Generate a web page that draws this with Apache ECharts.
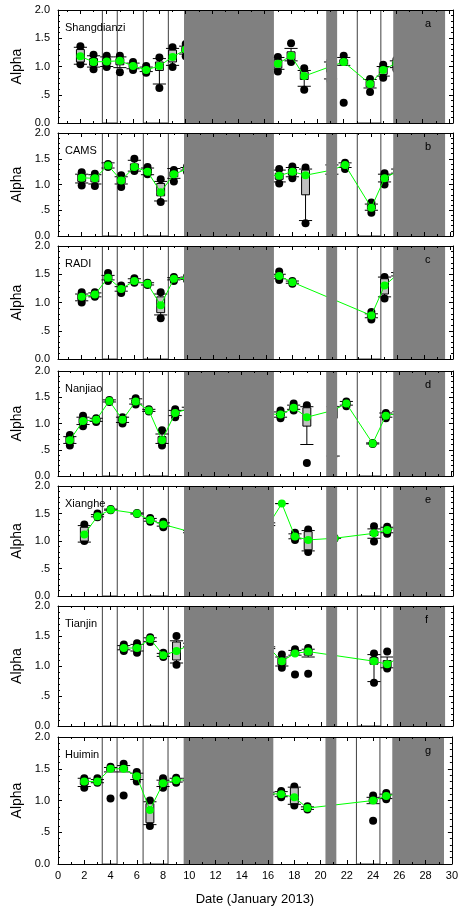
<!DOCTYPE html>
<html><head><meta charset="utf-8">
<script src="https://cdn.jsdelivr.net/npm/echarts@6.0.0/dist/echarts.min.js"></script>
<style>html,body{margin:0;padding:0;background:#fff}#c{width:461px;height:908px}</style>
</head><body><div id="c"></div>
<script>
// ---------------- data ----------------
const stationNames = ['Shangdianzi', 'CAMS', 'RADI', 'Nanjiao', 'Xianghe', 'Tianjin', 'Huimin'];
const panelLetters = ['a', 'b', 'c', 'd', 'e', 'f', 'g'];
// each panel's day axis is offset slightly from the common date axis
const dayShift = [0.3, 0.2, 0.2, 0.1, 0, 0, 0];
const xTickLabels = [0, 2, 4, 6, 8, 10, 12, 14, 16, 18, 20, 22, 24, 26, 28, 30];
const yTickValues = [0, 0.5, 1.0, 1.5, 2.0];
const grayBands = [[9.57, 16.4], [20.37, 21.2], [25.46, 29.4]];
const markedPeriods = [[3.37, 4.5], [6.48, 8.38], [22.73, 24.52]];

// rows: [day, lowDot, lowCap, q1, mean, q3, highCap, highDot]
const shangdianzi = [
  [2, 1.04, 1.04, 1.08, 1.18, 1.30, 1.34, 1.36],
  [3, 0.95, 0.99, 1.02, 1.08, 1.14, 1.19, 1.21],
  [4, 0.99, 1.00, 1.04, 1.09, 1.14, 1.17, 1.19],
  [5, 0.90, 0.98, 1.03, 1.10, 1.14, 1.17, 1.19],
  [6, 0.94, 0.96, 0.98, 1.01, 1.04, 1.06, 1.08],
  [7, 0.89, 0.91, 0.92, 0.94, 0.97, 0.99, 1.01],
  [8, 0.62, 0.69, 0.93, 1.01, 1.08, 1.14, 1.16],
  [9, 0.99, 1.02, 1.08, 1.17, 1.29, 1.32, 1.34],
  [10, 1.18, 1.22, 1.25, 1.30, 1.34, 1.36, 1.40],
  [17, 0.91, 0.95, 0.97, 1.05, 1.12, 1.16, 1.17],
  [18, 1.08, 1.10, 1.12, 1.19, 1.26, 1.32, 1.41],
  [19, 0.59, 0.65, 0.77, 0.83, 0.91, 0.93, 0.97],
  [21, 0.75, 0.78, 0.90, 1.00, 1.05, 1.08, 1.10],
  [22, 0.36, 1.02, 1.04, 1.08, 1.12, 1.16, 1.19],
  [24, 0.55, 0.62, 0.64, 0.69, 0.74, 0.77, 0.78],
  [25, 0.80, 0.83, 0.86, 0.94, 0.99, 1.00, 1.03],
  [26, 0.95, 0.98, 1.00, 1.06, 1.08, 1.10, 1.12]
];
const cams = [
  [2, 0.98, 1.03, 1.06, 1.13, 1.19, 1.20, 1.24],
  [3, 0.97, 1.01, 1.05, 1.12, 1.17, 1.19, 1.21],
  [4, 1.34, 1.32, 1.34, 1.37, 1.40, 1.42, 1.40],
  [5, 0.95, 1.01, 1.03, 1.08, 1.13, 1.15, 1.18],
  [6, 1.26, 1.26, 1.29, 1.34, 1.40, 1.47, 1.50],
  [7, 1.20, 1.19, 1.22, 1.25, 1.30, 1.32, 1.34],
  [8, 0.66, 0.68, 0.78, 0.85, 1.02, 1.06, 1.10],
  [9, 1.06, 1.12, 1.15, 1.20, 1.25, 1.31, 1.28],
  [10, 1.25, 1.28, 1.29, 1.30, 1.32, 1.33, 1.35],
  [17, 1.02, 1.05, 1.10, 1.17, 1.22, 1.28, 1.30],
  [18, 1.12, 1.15, 1.18, 1.25, 1.30, 1.33, 1.35],
  [19, 0.25, 0.30, 0.80, 1.18, 1.28, 1.30, 1.33],
  [21, 1.18, 1.20, 1.24, 1.28, 1.32, 1.38, 1.40],
  [22, 1.30, 1.33, 1.35, 1.38, 1.40, 1.42, 1.42],
  [24, 0.45, 0.50, 0.52, 0.55, 0.60, 0.62, 0.65],
  [25, 1.00, 1.05, 1.08, 1.12, 1.17, 1.20, 1.22],
  [26, 1.20, 1.22, 1.24, 1.26, 1.28, 1.30, 1.32]
];
const radi = [
  [2, 1.00, 1.03, 1.05, 1.10, 1.14, 1.15, 1.18],
  [3, 1.10, 1.10, 1.12, 1.14, 1.16, 1.17, 1.18],
  [4, 1.38, 1.40, 1.41, 1.44, 1.47, 1.48, 1.52],
  [5, 1.17, 1.20, 1.21, 1.24, 1.27, 1.28, 1.30],
  [6, 1.35, 1.35, 1.36, 1.38, 1.40, 1.42, 1.43],
  [7, 1.31, 1.31, 1.32, 1.33, 1.34, 1.35, 1.35],
  [8, 0.72, 0.78, 0.82, 0.95, 1.10, 1.15, 1.18],
  [9, 1.38, 1.40, 1.40, 1.42, 1.43, 1.44, 1.45],
  [10, 1.40, 1.41, 1.42, 1.43, 1.44, 1.45, 1.46],
  [17, 1.40, 1.42, 1.44, 1.47, 1.50, 1.50, 1.55],
  [18, 1.33, 1.34, 1.35, 1.36, 1.37, 1.38, 1.38],
  [24, 0.70, 0.73, 0.74, 0.77, 0.79, 0.80, 0.83],
  [25, 1.07, 1.10, 1.15, 1.30, 1.42, 1.45, 1.45],
  [26, 1.45, 1.47, 1.48, 1.50, 1.52, 1.53, 1.55]
];
const nanjiao = [
  [1, 0.58, 0.62, 0.63, 0.68, 0.74, 0.75, 0.78],
  [2, 0.95, 0.98, 1.00, 1.05, 1.10, 1.12, 1.15],
  [3, 1.03, 1.04, 1.05, 1.07, 1.09, 1.10, 1.10],
  [4, 1.41, 1.41, 1.42, 1.43, 1.44, 1.45, 1.45],
  [5, 1.00, 1.02, 1.04, 1.07, 1.10, 1.12, 1.12],
  [6, 1.36, 1.37, 1.39, 1.42, 1.45, 1.47, 1.48],
  [7, 1.23, 1.23, 1.24, 1.25, 1.26, 1.27, 1.27],
  [8, 0.58, 0.62, 0.63, 0.68, 0.75, 0.80, 0.87],
  [9, 1.12, 1.15, 1.17, 1.20, 1.24, 1.25, 1.27],
  [10, 1.24, 1.25, 1.26, 1.28, 1.30, 1.31, 1.32],
  [17, 1.10, 1.12, 1.14, 1.17, 1.20, 1.22, 1.25],
  [18, 1.25, 1.27, 1.28, 1.30, 1.33, 1.35, 1.38],
  [19, 0.25, 0.60, 0.95, 1.12, 1.30, 1.32, 1.35],
  [21, 0.36, 0.38, 1.10, 1.25, 1.30, 1.32, 1.34],
  [22, 1.33, 1.35, 1.36, 1.38, 1.40, 1.42, 1.42],
  [24, 0.61, 0.61, 0.61, 0.62, 0.63, 0.63, 0.63],
  [25, 1.10, 1.12, 1.13, 1.15, 1.17, 1.20, 1.20],
  [26, 1.15, 1.17, 1.18, 1.20, 1.22, 1.23, 1.25]
];
const xianghe = [
  [2, 1.00, 0.98, 1.00, 1.12, 1.25, 1.28, 1.30],
  [3, 1.43, 1.44, 1.44, 1.45, 1.47, 1.48, 1.50],
  [4, 1.56, 1.56, 1.56, 1.57, 1.58, 1.58, 1.58],
  [6, 1.49, 1.49, 1.49, 1.50, 1.51, 1.51, 1.51],
  [7, 1.35, 1.36, 1.37, 1.38, 1.40, 1.41, 1.42],
  [8, 1.25, 1.27, 1.28, 1.30, 1.32, 1.33, 1.35],
  [10, 1.15, 1.15, 1.16, 1.17, 1.18, 1.19, 1.20],
  [16, 1.27, 1.28, 1.29, 1.30, 1.31, 1.33, 1.34],
  [17, null, 1.68, null, 1.68, null, 1.68, null],
  [18, 1.02, 1.04, 1.05, 1.08, 1.11, 1.13, 1.15],
  [19, 0.80, 0.82, 0.84, 1.02, 1.17, 1.19, 1.21],
  [21, 1.04, 1.05, 1.05, 1.05, 1.06, 1.06, 1.06],
  [24, 0.99, 1.05, 1.10, 1.14, 1.18, 1.22, 1.27],
  [25, 1.13, 1.15, 1.17, 1.20, 1.23, 1.25, 1.26],
  [26, 1.22, 1.23, 1.24, 1.25, 1.26, 1.27, 1.28]
];
const tianjin = [
  [5, 1.25, 1.27, 1.27, 1.30, 1.33, 1.34, 1.36],
  [6, 1.22, 1.25, 1.27, 1.30, 1.34, 1.36, 1.38],
  [7, 1.40, 1.41, 1.43, 1.45, 1.47, 1.47, 1.48],
  [8, 1.15, 1.16, 1.17, 1.18, 1.20, 1.21, 1.22],
  [9, 1.02, 1.05, 1.10, 1.25, 1.40, 1.42, 1.50],
  [10, 1.30, 1.32, 1.33, 1.35, 1.37, 1.38, 1.40],
  [16, 1.28, 1.29, 1.30, 1.31, 1.32, 1.32, 1.33],
  [17, 0.97, 1.00, 1.02, 1.08, 1.13, 1.15, 1.19],
  [18, 0.86, 1.18, 1.19, 1.21, 1.24, 1.26, 1.28],
  [19, 0.87, 1.15, 1.18, 1.24, 1.27, 1.28, 1.30],
  [24, 0.72, 0.74, 1.03, 1.08, 1.14, 1.19, 1.21],
  [25, 0.96, 0.97, 0.98, 1.03, 1.09, 1.15, 1.24],
  [26, 1.10, 1.12, 1.13, 1.15, 1.17, 1.18, 1.20]
];
const huimin = [
  [2, 1.20, 1.22, 1.25, 1.30, 1.33, 1.35, 1.35],
  [3, 1.28, 1.28, 1.29, 1.30, 1.32, 1.33, 1.35],
  [4, 1.03, 1.45, 1.47, 1.50, 1.52, 1.52, 1.53],
  [5, 1.08, 1.45, 1.47, 1.50, 1.53, 1.55, 1.58],
  [6, 1.30, 1.33, 1.35, 1.38, 1.41, 1.43, 1.45],
  [7, 0.60, 0.62, 0.65, 0.85, 0.95, 0.98, 1.00],
  [8, 1.20, 1.22, 1.24, 1.27, 1.30, 1.32, 1.35],
  [9, 1.28, 1.29, 1.30, 1.32, 1.34, 1.35, 1.36],
  [10, 1.30, 1.31, 1.32, 1.33, 1.34, 1.35, 1.36],
  [16, 1.08, 1.09, 1.10, 1.11, 1.12, 1.13, 1.14],
  [17, 1.05, 1.06, 1.07, 1.10, 1.12, 1.14, 1.15],
  [18, 0.92, 0.94, 0.95, 1.05, 1.20, 1.21, 1.22],
  [19, 0.86, 0.86, 0.87, 0.88, 0.89, 0.90, 0.91],
  [24, 0.68, 0.95, 0.97, 1.00, 1.03, 1.05, 1.08],
  [25, 1.02, 1.03, 1.04, 1.07, 1.09, 1.10, 1.12],
  [26, 1.08, 1.09, 1.10, 1.11, 1.12, 1.13, 1.14]
];
const stationRows = [shangdianzi, cams, radi, nanjiao, xianghe, tianjin, huimin];

// ---------------- layout ----------------
const panelTop = [10, 133, 246, 371, 486, 606, 737];
const panelHeight = [113, 103, 113, 105, 110, 120, 127];
const FONT = '"Liberation Sans", Arial, Helvetica, sans-serif';
const GREEN = '#00ff00';

const evenVals = [], oddVals = [];
for (let v = 0; v <= 30; v++) (v % 2 === 0 ? evenVals : oddVals).push(v);

function nz(v) { return v == null ? NaN : v; }

function renderBox(params, api) {
  const x = api.value(0), lo = api.value(1), q1 = api.value(2), q3 = api.value(3), hi = api.value(4);
  const capW = api.size([0.5, 0])[0];
  const boxW = api.size([0.3, 0])[0];
  const st = { stroke: '#000', lineWidth: 1, fill: null };
  const ch = [];
  if (!isNaN(lo) && !isNaN(hi)) {
    const a = api.coord([x, lo]), b = api.coord([x, hi]);
    ch.push({ type: 'line', shape: { x1: a[0], y1: a[1], x2: b[0], y2: b[1] }, style: st });
    ch.push({ type: 'line', shape: { x1: a[0] - capW, y1: a[1], x2: a[0] + capW, y2: a[1] }, style: st });
    ch.push({ type: 'line', shape: { x1: b[0] - capW, y1: b[1], x2: b[0] + capW, y2: b[1] }, style: st });
  }
  if (!isNaN(q1) && !isNaN(q3)) {
    const a = api.coord([x, q3]), b = api.coord([x, q1]);
    ch.push({ type: 'rect', shape: { x: a[0] - boxW, y: a[1], width: 2 * boxW, height: Math.max(1, b[1] - a[1]) },
      style: { fill: '#c0c0c0', stroke: '#000', lineWidth: 1 } });
  }
  return { type: 'group', children: ch };
}

function renderSpan(fill, stroke) {
  return function (params, api) {
    const p0 = api.coord([api.value(0), 2]);
    const p1 = api.coord([api.value(1), 0]);
    return { type: 'rect', shape: { x: p0[0], y: p0[1], width: p1[0] - p0[0], height: p1[1] - p0[1] },
      style: { fill: fill, stroke: stroke, lineWidth: 1 } };
  };
}

const grids = [], xAxes = [], yAxes = [], series = [], graphics = [];
const axisLineStyle = { show: true, onZero: false, lineStyle: { color: '#000', width: 1 } };

stationNames.forEach(function (name, i) {
  const o = dayShift[i];
  const last = i === stationNames.length - 1;
  grids.push({ left: 58, width: 395, top: panelTop[i], height: panelHeight[i], containLabel: false });
  const majors = evenVals.filter(v => v >= o && v <= 30 + o);
  const minors = oddVals.filter(v => v >= o && v <= 30 + o);
  ['bottom', 'top'].forEach(function (pos) {
    xAxes.push({
      type: 'value', gridIndex: i, position: pos, min: o, max: 30 + o, interval: 2, z: 20,
      axisLine: axisLineStyle,
      axisTick: { show: true, inside: true, length: 4, customValues: majors, lineStyle: { color: '#000' } },
      axisLabel: { show: last && pos === 'bottom', color: '#000', fontSize: 11, fontFamily: FONT, margin: 6,
        customValues: xTickLabels },
      splitLine: { show: false },
      name: last && pos === 'bottom' ? 'Date (January 2013)' : '',
      nameLocation: 'middle', nameGap: 29,
      nameTextStyle: { color: '#000', fontSize: 13, fontFamily: FONT }
    });
    xAxes.push({
      type: 'value', gridIndex: i, position: pos, min: o, max: 30 + o, interval: 1, z: 20,
      axisLine: { show: false, onZero: false },
      axisTick: { show: true, inside: true, length: 2, customValues: minors, lineStyle: { color: '#000' } },
      axisLabel: { show: false }, splitLine: { show: false }
    });
  });
  ['left', 'right'].forEach(function (pos) {
    yAxes.push({
      type: 'value', gridIndex: i, position: pos, min: 0, max: 2, interval: 0.5, z: 20,
      axisLine: axisLineStyle,
      axisTick: { show: true, inside: true, length: 4, lineStyle: { color: '#000' } },
      minorTick: { show: true, splitNumber: 5, length: 2, lineStyle: { color: '#000' } },
      axisLabel: { show: pos === 'left', color: '#000', fontSize: 11, fontFamily: FONT, margin: 8,
        customValues: yTickValues,
        formatter: function (v) { return Math.abs(v - 0.5) < 1e-9 ? '.5' : v.toFixed(1); } },
      splitLine: { show: false },
      name: pos === 'left' ? 'Alpha' : '', nameLocation: 'middle', nameGap: 33,
      nameTextStyle: { color: '#000', fontSize: 14, fontFamily: FONT }
    });
  });
  const xi = i * 4, yi = i * 2;
  const rows = stationRows[i];

  series.push({
    type: 'custom', xAxisIndex: xi, yAxisIndex: yi, z: 1, silent: true, clip: true,
    renderItem: renderSpan('none', '#404040'),
    encode: { x: [0, 1] },
    data: markedPeriods.map(p => [p[0] + o, p[1] + o])
  });
  const dots = [];
  rows.forEach(r => { if (r[1] != null) dots.push([r[0], r[1]]); if (r[7] != null) dots.push([r[0], r[7]]); });
  series.push({
    type: 'scatter', xAxisIndex: xi, yAxisIndex: yi, z: 2, silent: true,
    symbol: 'circle', symbolSize: 8, itemStyle: { color: '#000', opacity: 1 }, data: dots
  });
  series.push({
    type: 'custom', xAxisIndex: xi, yAxisIndex: yi, z: 3, silent: true, clip: true,
    renderItem: renderBox,
    encode: { x: 0, y: [1, 2, 3, 4] },
    data: rows.map(r => [r[0], nz(r[2]), nz(r[3]), nz(r[5]), nz(r[6])])
  });
  series.push({
    type: 'line', xAxisIndex: xi, yAxisIndex: yi, z: 4, silent: true,
    symbol: 'circle', symbolSize: 8, showAllSymbol: true,
    itemStyle: { color: GREEN, borderWidth: 0, opacity: 1 }, lineStyle: { color: GREEN, width: 1 },
    data: rows.map(r => [r[0], r[4]])
  });
  series.push({
    type: 'custom', xAxisIndex: xi, yAxisIndex: yi, z: 10, silent: true, clip: true,
    renderItem: renderSpan('#808080', null),
    encode: { x: [0, 1] },
    data: grayBands.map(b => [b[0] + o, b[1] + o])
  });

  graphics.push({ type: 'text', left: 65, top: panelTop[i] + 12, z: 30,
    style: { text: name, fill: '#000', font: '11px ' + FONT } });
  graphics.push({ type: 'text', left: 425, top: panelTop[i] + 8, z: 30,
    style: { text: panelLetters[i], fill: '#000', font: '11px ' + FONT } });
});

const chart = echarts.init(document.getElementById('c'), null, { renderer: 'canvas' });
chart.setOption({
  animation: false,
  backgroundColor: '#fff',
  grid: grids, xAxis: xAxes, yAxis: yAxes, series: series, graphic: graphics
});
</script></body></html>
